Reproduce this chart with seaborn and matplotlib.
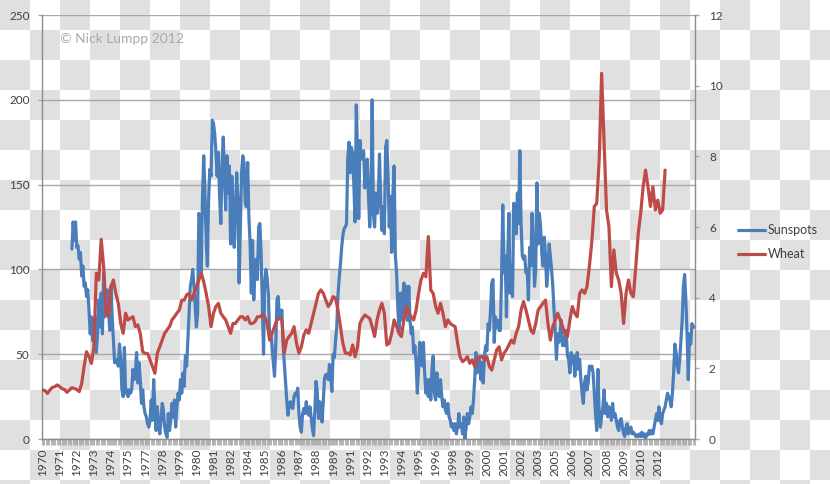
import numpy as np
import pandas as pd
import matplotlib
matplotlib.use("Agg")
import matplotlib.pyplot as plt
from matplotlib.lines import Line2D
import seaborn as sns

# ---------------- data ----------------
# monthly sunspot numbers, first value = month 24 after Jan 1970
sunspot_start_month = 24
sunspots = [
    112, 128, 117, 128, 113, 114, 106, 110, 96, 102,
    90, 92, 84, 88, 76, 62, 72, 58, 60, 72,
    51, 62, 82, 66, 86, 62, 98, 72, 86, 88,
    76, 64, 90, 72, 58, 45, 47, 45, 43, 56,
    47, 29, 25, 54, 27, 29, 25, 29, 27, 29,
    41, 35, 39, 51, 33, 45, 35, 21, 29, 19,
    15, 13, 9, 7, 11, 23, 11, 35, 17, 5,
    19, 9, 3, 11, 21, 17, 7, 3, 1, 15,
    5, 11, 21, 13, 23, 7, 19, 27, 23, 35,
    27, 39, 31, 49, 43, 58, 74, 90, 94, 100,
    90, 78, 66, 74, 133, 129, 98, 143, 167, 145,
    117, 102, 141, 159, 155, 188, 186, 180, 169, 155,
    169, 143, 127, 159, 178, 155, 135, 167, 145, 161,
    115, 155, 135, 113, 137, 157, 141, 92, 125, 157,
    167, 163, 139, 137, 163, 131, 115, 86, 117, 82,
    102, 106, 94, 125, 127, 110, 80, 50, 92, 100,
    95, 85, 60, 62, 55, 45, 37, 55, 82, 84,
    72, 72, 76, 56, 45, 35, 23, 14, 20, 22,
    19, 18, 25, 27, 26, 30, 15, 7, 4, 15,
    18, 15, 22, 16, 14, 19, 13, 6, 2, 16,
    34, 28, 12, 22, 14, 10, 23, 36, 38, 38,
    35, 44, 38, 28, 50, 48, 58, 66, 85, 95,
    103, 113, 120, 124, 125, 127, 165, 175, 157, 172,
    168, 150, 128, 197, 170, 130, 176, 165, 168, 170,
    148, 160, 165, 143, 125, 141, 200, 133, 125, 145,
    133, 141, 168, 139, 123, 137, 121, 172, 176, 157,
    125, 143, 110, 145, 161, 108, 98, 78, 64, 86,
    70, 82, 92, 74, 90, 70, 90, 70, 62, 66,
    51, 55, 45, 27, 41, 57, 55, 43, 57, 39,
    27, 35, 25, 35, 23, 41, 49, 27, 23, 39,
    33, 25, 35, 25, 19, 23, 17, 15, 21, 13,
    11, 7, 9, 5, 9, 3, 7, 15, 7, 9,
    3, 13, 0, 7, 15, 9, 13, 19, 15, 23,
    35, 51, 39, 43, 47, 35, 45, 33, 49, 55,
    52, 68, 64, 76, 92, 94, 57, 72, 66, 70,
    64, 64, 94, 138, 98, 108, 72, 104, 133, 86,
    98, 84, 139, 127, 121, 145, 127, 170, 127, 108,
    106, 108, 98, 100, 82, 113, 102, 133, 115, 90,
    100, 151, 115, 133, 125, 110, 102, 119, 108, 90,
    100, 115, 108, 100, 90, 76, 64, 47, 62, 57,
    64, 70, 55, 60, 55, 64, 49, 47, 39, 51,
    45, 49, 37, 45, 51, 41, 47, 35, 27, 21,
    33, 37, 29, 33, 43, 41, 43, 39, 27, 15,
    5, 41, 15, 7, 13, 19, 29, 15, 21, 13,
    19, 15, 11, 21, 13, 15, 11, 7, 5, 11,
    12, 7, 3, 1.5, 7, 9, 3, 5, 7, 3,
    4, 3, 1.5, 2.4, 1.5, 3, 1.5, 4, 1.5, 3,
    0.5, 3, 2.4, 5, 3, 5, 3, 7, 11, 15,
    11, 19, 11, 9, 15, 17, 19, 23, 27, 25,
    23, 19, 27, 39, 56, 51, 43, 39, 47, 58,
    70, 90, 97, 82, 62, 35, 62, 56, 68, 66, 66,
]

# wheat price ($/bushel), every second month from Jan 1970
wheat_start_month = 0
wheat_step_months = 2
wheat = [
    1.39, 1.37, 1.29, 1.39, 1.46, 1.48, 1.53, 1.48, 1.42, 1.40,
    1.32, 1.39, 1.45, 1.43, 1.40, 1.34, 1.57, 2.05, 2.47, 2.33,
    2.14, 2.61, 4.69, 4.50, 5.65, 4.88, 3.56, 3.46, 4.31, 4.50,
    4.12, 3.84, 3.27, 2.99, 3.56, 3.37, 3.42, 3.46, 3.18, 3.23,
    2.99, 2.47, 2.42, 2.42, 2.24, 2.05, 1.86, 2.43, 2.61, 2.80,
    2.99, 3.09, 3.18, 3.37, 3.46, 3.56, 3.65, 3.93, 3.93, 4.08,
    4.12, 3.93, 4.12, 4.31, 4.50, 4.69, 4.45, 4.12, 3.75, 3.18,
    3.56, 3.75, 3.84, 3.56, 3.46, 3.37, 3.18, 2.99, 3.27, 3.27,
    3.37, 3.46, 3.46, 3.37, 3.46, 3.27, 3.27, 3.32, 3.46, 3.46,
    3.51, 3.46, 3.27, 2.80, 2.99, 3.18, 3.37, 3.41, 3.37, 2.43,
    2.80, 2.90, 2.99, 3.18, 2.71, 2.43, 2.61, 2.94, 3.09, 2.99,
    3.27, 3.56, 3.84, 4.12, 4.22, 4.12, 3.93, 3.75, 3.84, 4.03,
    3.98, 3.65, 3.18, 2.71, 2.43, 2.43, 2.38, 2.66, 2.33, 2.61,
    3.27, 3.41, 3.51, 3.46, 3.41, 3.18, 2.90, 3.37, 3.65, 3.84,
    3.56, 2.66, 2.71, 2.99, 3.37, 3.18, 2.99, 2.90, 3.37, 3.75,
    3.56, 3.46, 3.37, 3.65, 4.12, 4.50, 4.69, 4.59, 5.73, 4.22,
    4.12, 3.75, 3.56, 3.84, 3.56, 3.18, 3.37, 3.27, 3.22, 3.18,
    2.71, 2.33, 2.19, 2.24, 2.33, 2.14, 2.24, 2.05, 2.24, 2.33,
    2.33, 2.24, 2.33, 2.05, 1.95, 2.24, 2.52, 2.61, 2.24, 2.43,
    2.52, 2.66, 2.80, 2.71, 2.99, 3.18, 3.65, 3.89, 3.65, 3.37,
    3.08, 2.99, 3.27, 3.65, 3.75, 3.84, 3.93, 3.27, 2.80, 3.18,
    3.37, 3.56, 3.37, 3.18, 2.99, 2.90, 3.37, 3.75, 3.56, 3.46,
    4.12, 4.22, 4.12, 4.31, 4.90, 5.60, 6.58, 6.67, 7.90, 10.35,
    8.37, 6.48, 6.01, 4.31, 5.35, 4.69, 4.50, 4.12, 3.27, 4.12,
    4.50, 4.12, 4.03, 4.88, 5.82, 6.39, 7.14, 7.61, 7.14, 6.58,
    7.14, 6.48, 6.76, 6.39, 6.48, 7.61,
]

n_months = 535          # number of monthly categories on the x axis
label_every = 14        # a year label every 14 categories
year_labels = ['1970', '1971', '1972', '1973', '1974', '1975', '1977', '1978',
               '1979', '1980', '1981', '1982', '1984', '1985', '1986', '1987',
               '1988', '1989', '1991', '1992', '1993', '1994', '1995', '1996',
               '1998', '1999', '2000', '2001', '2002', '2003', '2005', '2006',
               '2007', '2008', '2009', '2010', '2012']
left_ticks = [0, 50, 100, 150, 200, 250]
right_ticks = [0, 2, 4, 6, 8, 10, 12]
series_names = ['Sunspots', 'Wheat']

BLUE = '#4a7ebb'
RED = '#be4b48'
AXIS_GREY = '#8c8c8c'
GRID_GREY = '#a8a8a8'
TEXT = '#404040'

df_sun = pd.DataFrame({
    'month': np.arange(sunspot_start_month, sunspot_start_month + len(sunspots)),
    'value': sunspots,
})
df_wheat = pd.DataFrame({
    'month': wheat_start_month + wheat_step_months * np.arange(len(wheat)),
    'value': wheat,
})

# ---------------- figure ----------------
sns.set_style('white')
plt.rcParams['font.family'] = ['Lato', 'DejaVu Sans']

W, H = 830, 484
fig = plt.figure(figsize=(W / 100, H / 100), dpi=100)

# transparent-background checkerboard, as in the reference picture
yy, xx = np.mgrid[0:H, 0:W]
cell = 30
checker = ((xx // cell + yy // cell) % 2 == 0)
bg = np.where(checker, 0.882, 1.0)
bg_img = np.dstack([bg, bg, bg])
fig.figimage(bg_img, 0, 0, origin='upper', zorder=-10)

ax = fig.add_axes([42 / W, 1 - 439 / H, 653 / W, 424 / H])
ax.patch.set_visible(False)

sns.lineplot(data=df_sun, x='month', y='value', ax=ax, color=BLUE,
             linewidth=2.3, solid_joinstyle='round', legend=False)

ax2 = ax.twinx()
ax2.patch.set_visible(False)
sns.lineplot(data=df_wheat, x='month', y='value', ax=ax2, color=RED,
             linewidth=2.3, solid_joinstyle='round', legend=False)

ax.set_xlim(-0.5, n_months - 0.5)
ax.set_ylim(left_ticks[0], left_ticks[-1])
ax2.set_ylim(right_ticks[0], right_ticks[-1])

ax.set_xlabel('')
ax.set_ylabel('')
ax2.set_xlabel('')
ax2.set_ylabel('')

# gridlines
ax.set_axisbelow(True)
ax.yaxis.grid(True, color=GRID_GREY, linewidth=1.0)
ax.xaxis.grid(False)
ax2.grid(False)

# spines
for s in ['top', 'right']:
    ax.spines[s].set_visible(False)
for s in ['left', 'bottom']:
    ax.spines[s].set_color(AXIS_GREY)
    ax.spines[s].set_linewidth(1.0)
for s in ['top', 'left', 'bottom']:
    ax2.spines[s].set_visible(False)
ax2.spines['right'].set_color(AXIS_GREY)
ax2.spines['right'].set_linewidth(1.0)

# y ticks
ax.set_yticks(left_ticks)
ax.set_yticklabels([str(v) for v in left_ticks])
ax.tick_params(axis='y', which='major', length=3, width=1, color=GRID_GREY,
               labelsize=8.5, labelcolor=TEXT, pad=6, left=True)
ax2.set_yticks(right_ticks)
ax2.set_yticklabels([str(v) for v in right_ticks])
ax2.tick_params(axis='y', which='major', length=3, width=1, color=GRID_GREY,
                labelsize=8.5, labelcolor=TEXT, pad=7, right=True)

# x ticks: year labels every 14 monthly categories, a tick mark on each category
label_pos = [i * label_every for i in range(len(year_labels))]
ax.set_xticks(label_pos)
ax.set_xticklabels(year_labels, rotation=90)
ax.set_xticks(np.arange(-0.5, n_months, 1.0), minor=True)
ax.tick_params(axis='x', which='major', length=4, width=0.6, color=GRID_GREY,
               labelsize=8.5, labelcolor=TEXT, pad=3, bottom=True)
ax.tick_params(axis='x', which='minor', length=4, width=0.6, color=GRID_GREY,
               bottom=True)

# legend
handles = [Line2D([0], [0], color=BLUE, lw=2.3),
           Line2D([0], [0], color=RED, lw=2.3)]
fig.legend(handles, series_names, loc='center left',
           bbox_to_anchor=(727 / W, 1 - 242 / H), frameon=False,
           fontsize=9, handlelength=2.1, handletextpad=0.25,
           labelspacing=0.95, labelcolor=TEXT)

# watermark
fig.text(60 / W, 1 - 39 / H, '\u00a9 Nick Lumpp 2012', fontsize=10,
         color='#aaaaaa', ha='left', va='center')

fig.savefig('out.png', dpi=100)
